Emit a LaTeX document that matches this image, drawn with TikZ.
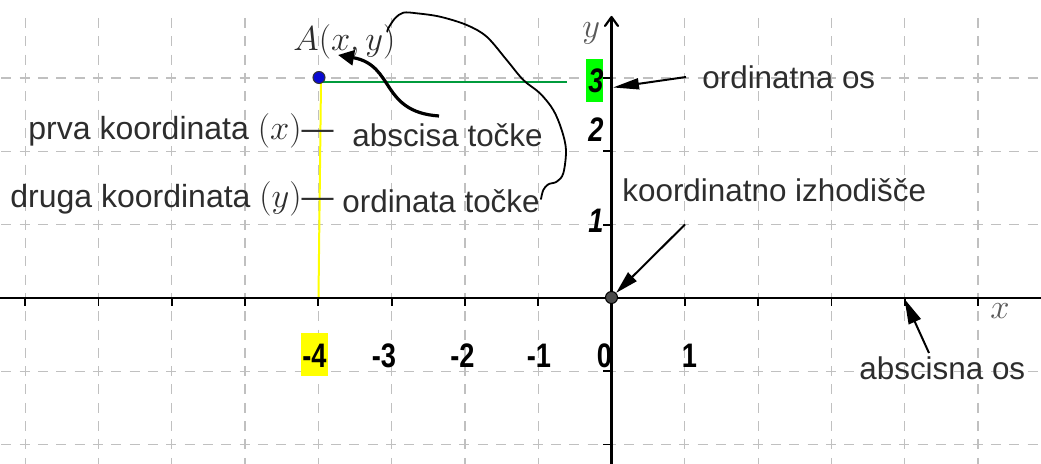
\documentclass[tikz,border=0pt]{standalone}
\usepackage{fontspec}
\usepackage{graphicx}
\setmainfont{Liberation Sans}
\usetikzlibrary{arrows.meta}
\definecolor{gridgray}{RGB}{192,192,192}
\definecolor{txtgray}{RGB}{45,45,45}
\definecolor{ggreen}{RGB}{0,155,60}
\definecolor{ptblue}{RGB}{10,10,210}
\definecolor{hlgreen}{RGB}{0,255,0}
\definecolor{hlyellow}{RGB}{255,255,0}
\newcommand{\narrownum}[1]{\scalebox{0.8}[1]{#1}}
\begin{document}
\begin{tikzpicture}[x=0.5pt,y=-0.5pt,
  gridline/.style={draw=gridgray,line width=0.6pt,dash pattern=on 5pt off 4.1625pt},
  axisline/.style={line width=1.1pt,black},
  tickmark/.style={line width=0.9pt,black},
  lbl/.style={inner sep=0pt,anchor=base west,text=txtgray,font=\fontsize{15.7}{18}\selectfont},
  lblbig/.style={lbl,font=\fontsize{16}{19}\selectfont},
  numlbl/.style={inner sep=0pt,anchor=base,font=\fontsize{17}{20}\selectfont\bfseries},
  ynumlbl/.style={inner sep=0pt,anchor=base east,font=\fontsize{17}{20}\selectfont\bfseries\itshape},
  axlbl/.style={inner sep=0pt,anchor=base west,text=black!65,font=\fontsize{17.5}{20}\selectfont},
  pointer/.style={line width=1pt,-{Triangle[length=12pt,width=6pt]}},
  dot/.style={circle,inner sep=0pt,minimum size=6pt,line width=0.5pt},
]
\useasboundingbox (0,0) rectangle (1041,464);
\fill[white] (0,0) rectangle (1041,464);
% grid
\foreach \k in {-8,...,5} {
  \draw[gridline] ({611.5+73.3*\k},18) -- ({611.5+73.3*\k},464);
}
\foreach \k in {-2,...,3} {
  \draw[gridline] (1.3,{298-73.3*\k}) -- (1041,{298-73.3*\k});
}
% projection lines
\coordinate (gStart) at (319,81.7);
\coordinate (gEnd) at (567,81.7);
\draw[ggreen,line width=1pt] (gStart) -- (gEnd);
\coordinate (yTop) at (321,81.7);
\coordinate (yBot) at (318.5,297);
\draw[hlyellow,line width=1pt] (yTop) -- (yBot);
% axes
\draw[axisline] (0,298) -- (1041,298);
\draw[axisline] (611.5,464) -- (611.5,17);
\draw[axisline,line join=round,line cap=round] (605,26) -- (611.5,17) -- (618,26);
\foreach \k in {-8,...,-1,1,2,3,4,5} {
  \draw[tickmark] ({611.5+73.3*\k},298) -- ({611.5+73.3*\k},306);
}
\foreach \k in {-2,-1,1,2,3} {
  \draw[tickmark] (603,{298-73.3*\k}) -- (611.5,{298-73.3*\k});
}
% highlight boxes
\fill[hlgreen] (586,59.3) rectangle (603.3,101.7);
\fill[hlyellow] (301,333) rectangle (328,376);
% numbers
\node[numlbl] (nm4) at (314.5,368) {\narrownum{-4}};
\node[numlbl] (nm3) at (384,368) {\narrownum{-3}};
\node[numlbl] (nm2) at (462.5,368) {\narrownum{-2}};
\node[numlbl] (nm1) at (539,368) {\narrownum{-1}};
\node[numlbl] (n0) at (604.5,368) {\narrownum{0}};
\node[numlbl] (np1) at (689.5,368) {\narrownum{1}};
\node[ynumlbl] (ny3) at (604,93) {\narrownum{3}};
\node[ynumlbl] (ny2) at (604,142) {\narrownum{2}};
\node[ynumlbl] (ny1) at (604,233) {\narrownum{1}};
% axis names
\node[axlbl] (xl) at (990,319) {$x$};
\node[axlbl] (yl) at (582,38) {$y$};
% texts
\node[inner sep=0pt,anchor=base west,text=txtgray,font=\fontsize{17.5}{20}\selectfont] (Alabel) at (293,51) {$A(x,y)$};
\node[lblbig] (prva) at (28,140) {prva koordinata $(x)$—};
\node[lblbig] (druga) at (10,208) {druga koordinata $(y)$—};
\node[lbl] (absc) at (352,146.5) {abscisa točke};
\node[lbl] (ordt) at (342,213) {ordinata točke};
\node[lbl] (ordos) at (702,89) {ordinatna os};
\node[lbl] (izh) at (622,201.5) {koordinatno izhodišče};
\node[lbl] (abos) at (859,380) {abscisna os};
% points
\node[dot,fill=black!70,draw=black] (O) at (611.5,297.5) {};
\node[dot,fill=ptblue,draw=black!80] (A) at (319,77.5) {};
% arrows
\coordinate (ordS) at (686,77);
\coordinate (ordT) at (613,87.5);
\draw[pointer,-{Triangle[length=13pt,width=5.5pt]}] (ordS) -- (ordT);
\coordinate (izhS) at (685,224.5);
\draw[pointer,-{Triangle[length=11.5pt,width=6pt]}] (izhS) -- (O);
\coordinate (abS) at (929,353);
\coordinate (abT) at (904.5,299);
\draw[pointer,-{Triangle[length=12.5pt,width=6.5pt]}] (abS) -- (abT);
\coordinate (cS) at (439,116);
\coordinate (cT) at (338,55);
\draw[line width=1.6pt,-{Triangle[length=8pt,width=7.5pt]}] (cS) .. controls (380,112) and (395,65) .. (cT);
% hand-drawn curve
\draw[line width=0.9pt,line cap=round,line join=round] plot[smooth,tension=0.55] coordinates {
  (541,199) (543.3,190) (548.3,184.3) (556.7,181.7) (563.3,173.3) (566,150)
  (561.7,130) (553.3,110) (540,93.3) (523.3,80) (506.7,60) (486.7,36.7)
  (466.7,25) (440,16.7) (416.7,13.3) (403.3,12.7) (395,18.3) (388.3,28.3) (387.3,31.7)};
\end{tikzpicture}
\end{document}
